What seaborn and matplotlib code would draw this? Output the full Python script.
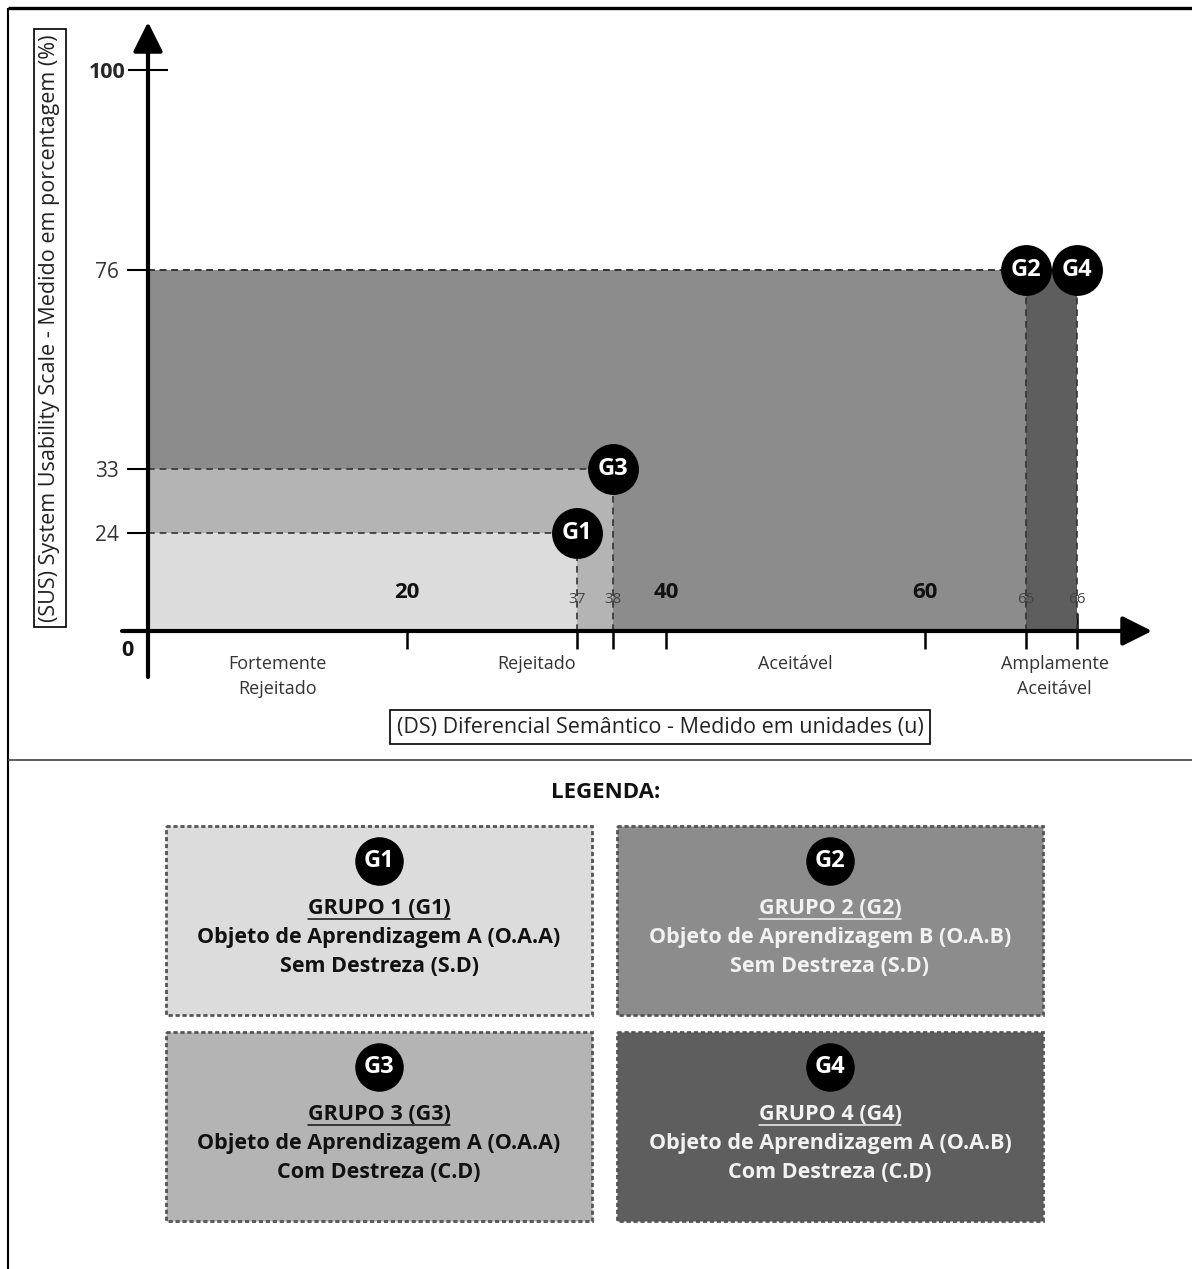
import numpy as np
import pandas as pd
import matplotlib
matplotlib.use("Agg")
import matplotlib.pyplot as plt
from matplotlib.patches import Rectangle
import seaborn as sns

# ---------------- data ----------------
groups = ["G1", "G2", "G3", "G4"]
ds_values = [37, 65, 38, 66]          # Diferencial Semântico (u)
sus_values = [24, 76, 33, 76]         # SUS (%)
group_colors = ["#dcdcdc", "#8c8c8c", "#b4b4b4", "#5e5e5e"]
legend_text_colors = ["#111111", "#f2f2f2", "#111111", "#f2f2f2"]
x_major_ticks = [20, 40, 60]
y_major_ticks = [100]
categories = ["Fortemente\nRejeitado", "Rejeitado", "Aceitável", "Amplamente\nAceitável"]
category_bounds = [(0, 20), (20, 40), (40, 60), (60, 80)]
group_titles = ["GRUPO 1 (G1)", "GRUPO 2 (G2)", "GRUPO 3 (G3)", "GRUPO 4 (G4)"]
group_objects = ["Objeto de Aprendizagem A (O.A.A)", "Objeto de Aprendizagem B (O.A.B)",
                 "Objeto de Aprendizagem A (O.A.A)", "Objeto de Aprendizagem A (O.A.B)"]
group_skill = ["Sem Destreza (S.D)", "Sem Destreza (S.D)",
               "Com Destreza (C.D)", "Com Destreza (C.D)"]
x_label = "(DS) Diferencial Semântico - Medido em unidades (u)"
y_label = "(SUS) System Usability Scale - Medido em porcentagem (%)"
legend_title = "LEGENDA:"

# schematic (non-linear) axes of the original drawing
x_knots = [-50, 0, 20, 37, 38, 40, 60, 65, 66, 80, 130]
x_disp = [-50, 0, 20, 33.1, 35.9, 40, 60, 67.8, 71.7, 80, 130]
y_knots = [-50, 0, 24, 33, 76, 100, 150]
y_disp = [-50, 0, 17.5, 28.9, 64.3, 100, 150]

def xf(v):
    return np.interp(v, x_knots, x_disp)

def xi(d):
    return np.interp(d, x_disp, x_knots)

def yf(v):
    return np.interp(v, y_knots, y_disp)

def yi(d):
    return np.interp(d, y_disp, y_knots)

# ---------------- style ----------------
sns.set_theme(style="white")
plt.rcParams["font.family"] = ["Open Sans", "DejaVu Sans"]

W, H = 1192, 1269
fig = plt.figure(figsize=(W / 100, H / 100), dpi=100)
fig.patch.set_facecolor("white")

# background / frame / legend layer in pixel coords
bg = fig.add_axes([0, 0, 1, 1], zorder=0)
bg.set_xlim(0, W)
bg.set_ylim(H, 0)
bg.axis("off")

# main chart axes
ax = fig.add_axes([100 / W, 1 - 700 / H, 1070 / W, 685 / H], zorder=1)
ax.patch.set_alpha(0)
ax.set_xscale("function", functions=(xf, xi))
ax.set_yscale("function", functions=(yf, yi))
px_x = 12.95
px_y = 5.61
ax.set_xlim(xi((100 - 148) / px_x), xi((1170 - 148) / px_x))
ax.set_ylim(yi((631 - 700) / px_y), yi((631 - 15) / px_y))
for s in ax.spines.values():
    s.set_visible(False)
ax.spines["bottom"].set_position(("data", 0))
ax.spines["left"].set_position(("data", 0))

df = pd.DataFrame({"group": groups, "ds": ds_values, "sus": sus_values, "color": group_colors})
order = df.sort_values("ds", ascending=False)

# filled regions
ax.bar(np.zeros(len(order)), order["sus"], width=order["ds"], align="edge",
       color=order["color"], edgecolor="none", zorder=1)

# dashed guides
for _, r in df.iterrows():
    ax.plot([0, r.ds], [r.sus, r.sus], ls=(0, (4, 3)), color="#333333", lw=1.2, zorder=2)
    ax.plot([r.ds, r.ds], [0, r.sus], ls=(0, (4, 3)), color="#333333", lw=1.2, zorder=2)

# axes with arrows
ax.annotate("", xy=(0, yi((631 - 22) / px_y)), xytext=(0, yi((631 - 677) / px_y)),
            arrowprops=dict(arrowstyle="-|>,head_length=1.0,head_width=0.5", mutation_scale=18,
                            lw=3, color="black", shrinkA=0, shrinkB=0), zorder=4)
ax.annotate("", xy=(xi((1152 - 148) / px_x), 0), xytext=(xi((122 - 148) / px_x), 0),
            arrowprops=dict(arrowstyle="-|>,head_length=1.0,head_width=0.5", mutation_scale=18,
                            lw=3, color="black", shrinkA=0, shrinkB=0), zorder=4)

# ticks
ax.set_xticks(x_major_ticks)
ax.set_xticks(ds_values, minor=True)
ax.set_xticklabels([])
ax.set_xticklabels([], minor=True)
ax.tick_params(axis="x", which="both", direction="inout", length=26, width=1.8,
               color="black", bottom=True)
ax.set_yticks(y_major_ticks, labels=[str(v) for v in y_major_ticks])
ax.set_yticks(sorted(set(sus_values)), labels=[str(v) for v in sorted(set(sus_values))], minor=True)
ax.tick_params(axis="y", which="major", direction="inout", length=29, width=1.5,
               color="black", left=True, labelsize=15.5, pad=2)
ax.tick_params(axis="y", which="minor", direction="out", length=15, width=1.5,
               color="black", left=True, labelsize=15, pad=6, labelcolor="#333333")
for lbl in ax.get_yticklabels():
    lbl.set_fontweight("bold")

for v in x_major_ticks:
    ax.annotate(str(v), xy=(v, 0), xytext=(0, 28), textcoords="offset points",
                ha="center", va="center", fontsize=16, fontweight="bold", color="#111111", zorder=5)
for v in ds_values:
    ax.annotate(str(v), xy=(v, 0), xytext=(0, 23), textcoords="offset points",
                ha="center", va="center", fontsize=11, color="#444444", zorder=3)
ax.annotate("0", xy=(0, 0), xytext=(-15, -14), textcoords="offset points",
            ha="center", va="center", fontsize=15.5, fontweight="bold", color="#111111")

# category labels below x axis
for cat, (a, b) in zip(categories, category_bounds):
    xc = xi((xf(a) + xf(b)) / 2)
    ax.annotate(cat, xy=(xc, 0), xytext=(0, -17), textcoords="offset points",
                ha="center", va="top", fontsize=13, color="#333333", linespacing=1.5)

# group markers
sns.scatterplot(data=df, x="ds", y="sus", s=1150, color="black", edgecolor="black",
                legend=False, ax=ax, zorder=6)
for _, r in df.iterrows():
    ax.text(r.ds, r.sus, r.group, ha="center", va="center", color="white",
            fontsize=17, fontweight="bold", zorder=7)
ax.set_xlabel("")
ax.set_ylabel("")

# axis titles in boxes
fig.text(50 / W, 1 - 328 / H, y_label, rotation=90, ha="center", va="center", fontsize=15.5,
         color="#222222",
         bbox=dict(boxstyle="square,pad=0.25", fc="white", ec="black", lw=1.2))
fig.text(660 / W, 1 - 727 / H, x_label, ha="center", va="center", fontsize=15.5,
         color="#222222",
         bbox=dict(boxstyle="square,pad=0.3", fc="white", ec="black", lw=1.2))

# frame lines
bg.plot([8, W], [8, 8], color="black", lw=2.4, solid_capstyle="butt")
bg.plot([8, 8], [8, H], color="black", lw=1.5, solid_capstyle="butt")
bg.plot([8, W], [760, 760], color="#444444", lw=1.2, solid_capstyle="butt")

# legend
bg.text(606, 793, legend_title, ha="center", va="center", fontsize=16, fontweight="bold",
        color="#111111")
box_x = [166, 617]
box_y = [826, 1032]
bw, bh = 426, 189
title_texts = []
for i in range(4):
    col, row = i % 2, i // 2
    x0, y0 = box_x[col], box_y[row]
    bg.add_patch(Rectangle((x0, y0), bw, bh, fc=group_colors[i], ec="#555555", lw=2,
                           ls=(0, (1.5, 1))))
    cx = x0 + bw / 2
    bg.scatter([cx], [y0 + 35], s=1150, color="black", zorder=3)
    bg.text(cx, y0 + 35, groups[i], ha="center", va="center", color="white",
            fontsize=17, fontweight="bold", zorder=4)
    t = bg.text(cx, y0 + 83, group_titles[i], ha="center", va="center",
                color=legend_text_colors[i], fontsize=15.5, fontweight="bold")
    title_texts.append((t, legend_text_colors[i]))
    bg.text(cx, y0 + 112, group_objects[i], ha="center", va="center",
            color=legend_text_colors[i], fontsize=15.5, fontweight="bold")
    bg.text(cx, y0 + 140, group_skill[i], ha="center", va="center",
            color=legend_text_colors[i], fontsize=15.5, fontweight="bold")

fig.canvas.draw()
renderer = fig.canvas.get_renderer()
for t, c in title_texts:
    bb = t.get_window_extent(renderer)
    yline = H - bb.y0 - 1
    bg.plot([bb.x0, bb.x1], [yline, yline], color=c, lw=1.1)

fig.savefig("out.png", dpi=100)
